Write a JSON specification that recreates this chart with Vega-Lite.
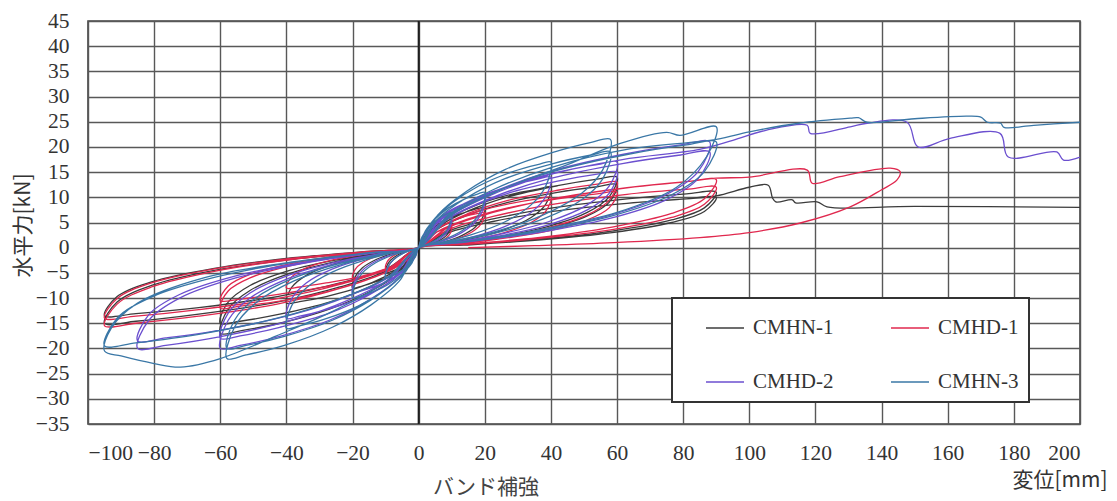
{
"$schema":"https://vega.github.io/schema/vega-lite/v6.json",
"width":992,"height":403,
"autosize":{"type":"none"},
"padding":{"left":88,"top":21,"right":37,"bottom":77},
"background":"white",
"config":{
 "view":{"stroke":"#444","strokeWidth":1.6},
 "axis":{"labelFont":"Liberation Serif","labelFontSize":21.5,"labelColor":"#333","grid":true,"gridColor":"#585858","gridWidth":1.4,"ticks":false,"domain":false,"titleFont":"Noto Sans CJK JP","titleFontWeight":"normal","titleFontSize":21,"titleColor":"#333"},
 "legend":{"orient":"none","legendX":584,"legendY":277,"columns":2,"direction":"horizontal","symbolType":"stroke","symbolSize":1444,"symbolStrokeWidth":1.6,"labelFont":"Liberation Serif","labelFontSize":21,"labelColor":"#333","padding":10,"rowPadding":24,"columnPadding":33,"symbolOffset":23,"labelOffset":8,"strokeColor":"#333","strokeWidth":2,"fillColor":"white"}
},
"title":{"text":"バンド補強","orient":"bottom","anchor":"start","frame":"group","font":"Noto Sans CJK JP","fontSize":21,"fontWeight":"normal","color":"#444","dx":345,"dy":-17},
"datasets":{
"ax":[{"x":0,"y":-35,"k":"v"},{"x":0,"y":45,"k":"v"}],
"n1":[
{"x":0,"y":0},{"x":1,"y":1.5},{"x":2.5,"y":2.6},{"x":4.5,"y":3.6},{"x":7,"y":4.4},{"x":9,"y":4.9},{"x":10,"y":5},{"x":9.6,"y":3.6},{"x":8.5,"y":2.5},{"x":6.5,"y":1.5},{"x":4,"y":0.8},{"x":1.5,"y":0.3},
{"x":0,"y":0},{"x":-1,"y":-1.5},{"x":-2.5,"y":-2.6},{"x":-4.5,"y":-3.6},{"x":-7,"y":-4.4},{"x":-9,"y":-4.9},{"x":-10,"y":-5},{"x":-9.6,"y":-3.6},{"x":-8.5,"y":-2.5},{"x":-6.5,"y":-1.5},{"x":-4,"y":-0.8},{"x":-1.5,"y":-0.3},
{"x":0,"y":0},{"x":2,"y":2.4},{"x":5,"y":4.2},{"x":9,"y":5.8},{"x":14,"y":7},{"x":18,"y":7.8},{"x":20,"y":8},{"x":19.2,"y":5.8},{"x":17,"y":4},{"x":13,"y":2.4},{"x":8,"y":1.2},{"x":3,"y":0.4},
{"x":0,"y":0},{"x":-2,"y":-2.4},{"x":-5,"y":-4.2},{"x":-9,"y":-5.8},{"x":-14,"y":-7},{"x":-18,"y":-7.8},{"x":-20,"y":-8},{"x":-19.2,"y":-5.8},{"x":-17,"y":-4},{"x":-13,"y":-2.4},{"x":-8,"y":-1.2},{"x":-3,"y":-0.4},
{"x":0,"y":0},{"x":4,"y":3.6},{"x":10,"y":6.2},{"x":18,"y":8.6},{"x":28,"y":10.6},{"x":36,"y":11.6},{"x":40,"y":12},{"x":38.4,"y":8.6},{"x":34,"y":6},{"x":26,"y":3.6},{"x":16,"y":1.8},{"x":6,"y":0.6},
{"x":0,"y":0},{"x":-4,"y":-3.3},{"x":-10,"y":-5.7},{"x":-18,"y":-7.9},{"x":-28,"y":-9.7},{"x":-36,"y":-10.7},{"x":-40,"y":-11},{"x":-38.4,"y":-7.9},{"x":-34,"y":-5.5},{"x":-26,"y":-3.3},{"x":-16,"y":-1.7},{"x":-6,"y":-0.6},
{"x":0,"y":0},{"x":6,"y":4.2},{"x":15,"y":7.3},{"x":27,"y":10.1},{"x":42,"y":12.3},{"x":54,"y":13.6},{"x":60,"y":14},{"x":57.6,"y":10.1},{"x":51,"y":7},{"x":39,"y":4.2},{"x":24,"y":2.1},{"x":9,"y":0.7},
{"x":0,"y":0},{"x":-6,"y":-5.1},{"x":-15,"y":-8.8},{"x":-27,"y":-12.2},{"x":-42,"y":-15},{"x":-54,"y":-16.5},{"x":-60,"y":-17},{"x":-57.6,"y":-12.2},{"x":-51,"y":-8.5},{"x":-39,"y":-5.1},{"x":-24,"y":-2.6},{"x":-9,"y":-0.9},
{"x":0,"y":0},{"x":6,"y":3.8},{"x":15,"y":6.5},{"x":27,"y":9},{"x":42,"y":11},{"x":54,"y":12.1},{"x":60,"y":12.5},{"x":57.6,"y":9},{"x":51,"y":6.3},{"x":39,"y":3.8},{"x":24,"y":1.9},{"x":9,"y":0.6},
{"x":0,"y":0},{"x":-6,"y":-4.5},{"x":-15,"y":-7.8},{"x":-27,"y":-10.8},{"x":-42,"y":-13.2},{"x":-54,"y":-14.6},{"x":-60,"y":-15},{"x":-57.6,"y":-10.8},{"x":-51,"y":-7.5},{"x":-39,"y":-4.5},{"x":-24,"y":-2.3},{"x":-9,"y":-0.8},
{"x":0,"y":0},{"x":9,"y":3.3},{"x":22.5,"y":5.7},{"x":40.5,"y":7.9},{"x":63,"y":9.7},{"x":81,"y":10.7},{"x":90,"y":11},{"x":86.4,"y":7.9},{"x":76.5,"y":5.5},{"x":58.5,"y":3.3},{"x":36,"y":1.7},{"x":13.5,"y":0.6},
{"x":0,"y":0},{"x":-9.5,"y":-4.5},{"x":-23.8,"y":-7.8},{"x":-42.8,"y":-10.8},{"x":-66.5,"y":-13.2},{"x":-85.5,"y":-14.6},{"x":-95,"y":-15},{"x":-91.2,"y":-10.8},{"x":-80.8,"y":-7.5},{"x":-61.8,"y":-4.5},{"x":-38,"y":-2.3},{"x":-14.3,"y":-0.8},
{"x":0,"y":0},{"x":9,"y":3},{"x":22.5,"y":5.2},{"x":40.5,"y":7.2},{"x":63,"y":8.8},{"x":81,"y":9.7},{"x":90,"y":10},{"x":86.4,"y":7.2},{"x":76.5,"y":5},{"x":58.5,"y":3},{"x":36,"y":1.5},{"x":13.5,"y":0.5},
{"x":0,"y":0},{"x":-9.5,"y":-4.1},{"x":-23.8,"y":-7},{"x":-42.8,"y":-9.7},{"x":-66.5,"y":-11.9},{"x":-85.5,"y":-13.1},{"x":-95,"y":-13.5},{"x":-91.2,"y":-9.7},{"x":-80.8,"y":-6.8},{"x":-61.8,"y":-4.1},{"x":-38,"y":-2},{"x":-14.3,"y":-0.7},
{"x":0,"y":0},{"x":9,"y":3},{"x":22.5,"y":5.2},{"x":40.5,"y":7.2},{"x":63,"y":8.8},{"x":81,"y":9.7},{"x":90,"y":10.3},{"x":100,"y":12},{"x":105.7,"y":12.4},{"x":107,"y":9.9},{"x":108,"y":9.1},{"x":113,"y":9.5},{"x":114,"y":8.9},{"x":120.5,"y":9.1},{"x":123.5,"y":8.1},{"x":150,"y":8.2},{"x":200,"y":8}
],
"d1":[
{"x":0,"y":0},{"x":1,"y":1.2},{"x":2.5,"y":2.1},{"x":4.5,"y":2.9},{"x":7,"y":3.5},{"x":9,"y":3.9},{"x":10,"y":4},{"x":9.6,"y":2.9},{"x":8.5,"y":2},{"x":6.5,"y":1.2},{"x":4,"y":0.6},{"x":1.5,"y":0.2},
{"x":0,"y":0},{"x":-1,"y":-1.2},{"x":-2.5,"y":-2.1},{"x":-4.5,"y":-2.9},{"x":-7,"y":-3.5},{"x":-9,"y":-3.9},{"x":-10,"y":-4},{"x":-9.6,"y":-2.9},{"x":-8.5,"y":-2},{"x":-6.5,"y":-1.2},{"x":-4,"y":-0.6},{"x":-1.5,"y":-0.2},
{"x":0,"y":0},{"x":2,"y":2.1},{"x":5,"y":3.6},{"x":9,"y":5},{"x":14,"y":6.2},{"x":18,"y":6.8},{"x":20,"y":7},{"x":19.2,"y":5},{"x":17,"y":3.5},{"x":13,"y":2.1},{"x":8,"y":1.1},{"x":3,"y":0.4},
{"x":0,"y":0},{"x":-2,"y":-1.8},{"x":-5,"y":-3.1},{"x":-9,"y":-4.3},{"x":-14,"y":-5.3},{"x":-18,"y":-5.8},{"x":-20,"y":-6},{"x":-19.2,"y":-4.3},{"x":-17,"y":-3},{"x":-13,"y":-1.8},{"x":-8,"y":-0.9},{"x":-3,"y":-0.3},
{"x":0,"y":0},{"x":4,"y":3},{"x":10,"y":5.2},{"x":18,"y":7.2},{"x":28,"y":8.8},{"x":36,"y":9.7},{"x":40,"y":10},{"x":38.4,"y":7.2},{"x":34,"y":5},{"x":26,"y":3},{"x":16,"y":1.5},{"x":6,"y":0.5},
{"x":0,"y":0},{"x":-4,"y":-2.4},{"x":-10,"y":-4.2},{"x":-18,"y":-5.8},{"x":-28,"y":-7},{"x":-36,"y":-7.8},{"x":-40,"y":-8},{"x":-38.4,"y":-5.8},{"x":-34,"y":-4},{"x":-26,"y":-2.4},{"x":-16,"y":-1.2},{"x":-6,"y":-0.4},
{"x":0,"y":0},{"x":6,"y":3.9},{"x":15,"y":6.8},{"x":27,"y":9.4},{"x":42,"y":11.4},{"x":54,"y":12.6},{"x":60,"y":13},{"x":57.6,"y":9.4},{"x":51,"y":6.5},{"x":39,"y":3.9},{"x":24,"y":2},{"x":9,"y":0.7},
{"x":0,"y":0},{"x":-6,"y":-3.6},{"x":-15,"y":-6.2},{"x":-27,"y":-8.6},{"x":-42,"y":-10.6},{"x":-54,"y":-11.6},{"x":-60,"y":-12},{"x":-57.6,"y":-8.6},{"x":-51,"y":-6},{"x":-39,"y":-3.6},{"x":-24,"y":-1.8},{"x":-9,"y":-0.6},
{"x":0,"y":0},{"x":6,"y":3.3},{"x":15,"y":5.7},{"x":27,"y":7.9},{"x":42,"y":9.7},{"x":54,"y":10.7},{"x":60,"y":11},{"x":57.6,"y":7.9},{"x":51,"y":5.5},{"x":39,"y":3.3},{"x":24,"y":1.7},{"x":9,"y":0.6},
{"x":0,"y":0},{"x":-6,"y":-3.2},{"x":-15,"y":-5.5},{"x":-27,"y":-7.6},{"x":-42,"y":-9.2},{"x":-54,"y":-10.2},{"x":-60,"y":-10.5},{"x":-57.6,"y":-7.6},{"x":-51,"y":-5.3},{"x":-39,"y":-3.2},{"x":-24,"y":-1.6},{"x":-9,"y":-0.5},
{"x":0,"y":0},{"x":9,"y":4.1},{"x":22.5,"y":7},{"x":40.5,"y":9.7},{"x":63,"y":11.9},{"x":81,"y":13.1},{"x":90,"y":13.5},{"x":86.4,"y":9.7},{"x":76.5,"y":6.8},{"x":58.5,"y":4.1},{"x":36,"y":2},{"x":13.5,"y":0.7},
{"x":0,"y":0},{"x":-9.5,"y":-4.7},{"x":-23.8,"y":-8.1},{"x":-42.8,"y":-11.2},{"x":-66.5,"y":-13.6},{"x":-85.5,"y":-15},{"x":-95,"y":-15.5},{"x":-91.2,"y":-11.2},{"x":-80.8,"y":-7.8},{"x":-61.8,"y":-4.7},{"x":-38,"y":-2.3},{"x":-14.3,"y":-0.8},
{"x":0,"y":0},{"x":9,"y":3.6},{"x":22.5,"y":6.2},{"x":40.5,"y":8.6},{"x":63,"y":10.6},{"x":81,"y":11.6},{"x":90,"y":12},{"x":86.4,"y":8.6},{"x":76.5,"y":6},{"x":58.5,"y":3.6},{"x":36,"y":1.8},{"x":13.5,"y":0.6},
{"x":0,"y":0},{"x":-9.5,"y":-4.2},{"x":-23.8,"y":-7.3},{"x":-42.8,"y":-10.1},{"x":-66.5,"y":-12.3},{"x":-85.5,"y":-13.6},{"x":-95,"y":-14},{"x":-91.2,"y":-10.1},{"x":-80.8,"y":-7},{"x":-61.8,"y":-4.2},{"x":-38,"y":-2.1},{"x":-14.3,"y":-0.7},
{"x":0,"y":0},{"x":9,"y":4},{"x":22.5,"y":7},{"x":40.5,"y":9.7},{"x":63,"y":11.9},{"x":81,"y":13.1},{"x":90,"y":13.8},{"x":100,"y":14},{"x":117.5,"y":15.4},{"x":119,"y":12.8},{"x":127.4,"y":14.1},{"x":142.6,"y":15.8},{"x":145.6,"y":15.1},{"x":144.6,"y":13.4},{"x":140,"y":11.5},{"x":130.5,"y":8.1},{"x":115.4,"y":4.9},{"x":100,"y":3},{"x":85,"y":2},{"x":59,"y":1},{"x":35,"y":0.4},{"x":15,"y":0}
],
"d2":[
{"x":0,"y":0},{"x":1,"y":1.8},{"x":2.5,"y":3.1},{"x":4.5,"y":4.3},{"x":7,"y":5.3},{"x":9,"y":5.8},{"x":10,"y":6},{"x":9.6,"y":4.3},{"x":8.5,"y":3},{"x":6.5,"y":1.8},{"x":4,"y":0.9},{"x":1.5,"y":0.3},
{"x":0,"y":0},{"x":-1,"y":-1.8},{"x":-2.5,"y":-3.1},{"x":-4.5,"y":-4.3},{"x":-7,"y":-5.3},{"x":-9,"y":-5.8},{"x":-10,"y":-6},{"x":-9.6,"y":-4.3},{"x":-8.5,"y":-3},{"x":-6.5,"y":-1.8},{"x":-4,"y":-0.9},{"x":-1.5,"y":-0.3},
{"x":0,"y":0},{"x":2,"y":3},{"x":5,"y":5.2},{"x":9,"y":7.2},{"x":14,"y":8.8},{"x":18,"y":9.7},{"x":20,"y":10},{"x":19.2,"y":7.2},{"x":17,"y":5},{"x":13,"y":3},{"x":8,"y":1.5},{"x":3,"y":0.5},
{"x":0,"y":0},{"x":-2,"y":-2.7},{"x":-5,"y":-4.7},{"x":-9,"y":-6.5},{"x":-14,"y":-7.9},{"x":-18,"y":-8.7},{"x":-20,"y":-9},{"x":-19.2,"y":-6.5},{"x":-17,"y":-4.5},{"x":-13,"y":-2.7},{"x":-8,"y":-1.4},{"x":-3,"y":-0.5},
{"x":0,"y":0},{"x":4,"y":4.2},{"x":10,"y":7.3},{"x":18,"y":10.1},{"x":28,"y":12.3},{"x":36,"y":13.6},{"x":40,"y":14},{"x":38.4,"y":10.1},{"x":34,"y":7},{"x":26,"y":4.2},{"x":16,"y":2.1},{"x":6,"y":0.7},
{"x":0,"y":0},{"x":-4,"y":-4.2},{"x":-10,"y":-7.3},{"x":-18,"y":-10.1},{"x":-28,"y":-12.3},{"x":-36,"y":-13.6},{"x":-40,"y":-14},{"x":-38.4,"y":-10.1},{"x":-34,"y":-7},{"x":-26,"y":-4.2},{"x":-16,"y":-2.1},{"x":-6,"y":-0.7},
{"x":0,"y":0},{"x":6,"y":5.1},{"x":15,"y":8.8},{"x":27,"y":12.2},{"x":42,"y":15},{"x":54,"y":16.5},{"x":60,"y":17},{"x":57.6,"y":12.2},{"x":51,"y":8.5},{"x":39,"y":5.1},{"x":24,"y":2.6},{"x":9,"y":0.9},
{"x":0,"y":0},{"x":-6,"y":-6},{"x":-15,"y":-10.4},{"x":-27,"y":-14.4},{"x":-42,"y":-17.6},{"x":-54,"y":-19.4},{"x":-60,"y":-20},{"x":-57.6,"y":-14.4},{"x":-51,"y":-10},{"x":-39,"y":-6},{"x":-24,"y":-3},{"x":-9,"y":-1},
{"x":0,"y":0},{"x":6,"y":4.5},{"x":15,"y":7.8},{"x":27,"y":10.8},{"x":42,"y":13.2},{"x":54,"y":14.6},{"x":60,"y":15},{"x":57.6,"y":10.8},{"x":51,"y":7.5},{"x":39,"y":4.5},{"x":24,"y":2.3},{"x":9,"y":0.8},
{"x":0,"y":0},{"x":-6,"y":-5.4},{"x":-15,"y":-9.4},{"x":-27,"y":-13},{"x":-42,"y":-15.8},{"x":-54,"y":-17.5},{"x":-60,"y":-18},{"x":-57.6,"y":-13},{"x":-51,"y":-9},{"x":-39,"y":-5.4},{"x":-24,"y":-2.7},{"x":-9,"y":-0.9},
{"x":0,"y":0},{"x":8.8,"y":6.3},{"x":22,"y":10.9},{"x":39.6,"y":15.1},{"x":61.6,"y":18.5},{"x":79.2,"y":20.4},{"x":88,"y":21},{"x":84.5,"y":15.1},{"x":74.8,"y":10.5},{"x":57.2,"y":6.3},{"x":35.2,"y":3.2},{"x":13.2,"y":1.1},
{"x":0,"y":0},{"x":-8.5,"y":-6},{"x":-21.3,"y":-10.4},{"x":-38.3,"y":-14.4},{"x":-59.5,"y":-17.6},{"x":-76.5,"y":-19.4},{"x":-85,"y":-20},{"x":-81.6,"y":-14.4},{"x":-72.3,"y":-10},{"x":-55.3,"y":-6},{"x":-34,"y":-3},{"x":-12.8,"y":-1},
{"x":0,"y":0},{"x":8.8,"y":5.7},{"x":22,"y":9.9},{"x":39.6,"y":13.7},{"x":61.6,"y":16.7},{"x":79.2,"y":18.4},{"x":88,"y":19},{"x":84.5,"y":13.7},{"x":74.8,"y":9.5},{"x":57.2,"y":5.7},{"x":35.2,"y":2.9},{"x":13.2,"y":1},
{"x":0,"y":0},{"x":-8.5,"y":-5.6},{"x":-21.3,"y":-9.6},{"x":-38.3,"y":-13.3},{"x":-59.5,"y":-16.3},{"x":-76.5,"y":-17.9},{"x":-85,"y":-18.5},{"x":-81.6,"y":-13.3},{"x":-72.3,"y":-9.3},{"x":-55.3,"y":-5.6},{"x":-34,"y":-2.8},{"x":-12.8,"y":-0.9},
{"x":0,"y":0},{"x":8.8,"y":6},{"x":22,"y":10.5},{"x":39.6,"y":14.5},{"x":61.6,"y":17.5},{"x":85,"y":19.5},{"x":95,"y":21.3},{"x":105,"y":23.3},{"x":117.5,"y":24.3},{"x":118.4,"y":22.7},{"x":130.5,"y":24},{"x":135.6,"y":24.7},{"x":147.7,"y":24.9},{"x":151,"y":20},{"x":160.7,"y":21.7},{"x":175.8,"y":22.7},{"x":178.3,"y":18},{"x":193,"y":19},{"x":195,"y":17.4},{"x":200,"y":18}
],
"n3":[
{"x":0,"y":0},{"x":1,"y":2.1},{"x":2.5,"y":3.6},{"x":4.5,"y":5},{"x":7,"y":6.2},{"x":9,"y":6.8},{"x":10,"y":7},{"x":9.6,"y":5},{"x":8.5,"y":3.5},{"x":6.5,"y":2.1},{"x":4,"y":1.1},{"x":1.5,"y":0.4},
{"x":0,"y":0},{"x":-1,"y":-1.8},{"x":-2.5,"y":-3.1},{"x":-4.5,"y":-4.3},{"x":-7,"y":-5.3},{"x":-9,"y":-5.8},{"x":-10,"y":-6},{"x":-9.6,"y":-4.3},{"x":-8.5,"y":-3},{"x":-6.5,"y":-1.8},{"x":-4,"y":-0.9},{"x":-1.5,"y":-0.3},
{"x":0,"y":0},{"x":2,"y":3.3},{"x":5,"y":5.7},{"x":9,"y":7.9},{"x":14,"y":9.7},{"x":18,"y":10.7},{"x":20,"y":11},{"x":19.2,"y":7.9},{"x":17,"y":5.5},{"x":13,"y":3.3},{"x":8,"y":1.7},{"x":3,"y":0.6},
{"x":0,"y":0},{"x":-2,"y":-3},{"x":-5,"y":-5.2},{"x":-9,"y":-7.2},{"x":-14,"y":-8.8},{"x":-18,"y":-9.7},{"x":-20,"y":-10},{"x":-19.2,"y":-7.2},{"x":-17,"y":-5},{"x":-13,"y":-3},{"x":-8,"y":-1.5},{"x":-3,"y":-0.5},
{"x":0,"y":0},{"x":4,"y":5.1},{"x":10,"y":8.8},{"x":18,"y":12.2},{"x":28,"y":15},{"x":36,"y":16.5},{"x":40,"y":17},{"x":38.4,"y":12.2},{"x":34,"y":8.5},{"x":26,"y":5.1},{"x":16,"y":2.6},{"x":6,"y":0.9},
{"x":0,"y":0},{"x":-4,"y":-4.8},{"x":-10,"y":-8.3},{"x":-18,"y":-11.5},{"x":-28,"y":-14.1},{"x":-36,"y":-15.5},{"x":-40,"y":-16},{"x":-38.4,"y":-11.5},{"x":-34,"y":-8},{"x":-26,"y":-4.8},{"x":-16,"y":-2.4},{"x":-6,"y":-0.8},
{"x":0,"y":0},{"x":5.8,"y":6.5},{"x":14.5,"y":11.2},{"x":26.1,"y":15.5},{"x":40.6,"y":18.9},{"x":52.2,"y":20.9},{"x":58,"y":21.5},{"x":55.7,"y":15.5},{"x":49.3,"y":10.8},{"x":37.7,"y":6.5},{"x":23.2,"y":3.2},{"x":8.7,"y":1.1},
{"x":0,"y":0},{"x":-5.8,"y":-6.6},{"x":-14.5,"y":-11.4},{"x":-26.1,"y":-15.8},{"x":-40.6,"y":-19.4},{"x":-52.2,"y":-21.3},{"x":-58,"y":-22},{"x":-55.7,"y":-15.8},{"x":-49.3,"y":-11},{"x":-37.7,"y":-6.6},{"x":-23.2,"y":-3.3},{"x":-8.7,"y":-1.1},
{"x":0,"y":0},{"x":5.8,"y":5.7},{"x":14.5,"y":9.9},{"x":26.1,"y":13.7},{"x":40.6,"y":16.7},{"x":52.2,"y":18.4},{"x":58,"y":19},{"x":55.7,"y":13.7},{"x":49.3,"y":9.5},{"x":37.7,"y":5.7},{"x":23.2,"y":2.9},{"x":8.7,"y":1},
{"x":0,"y":0},{"x":-5.8,"y":-6},{"x":-14.5,"y":-10.4},{"x":-26.1,"y":-14.4},{"x":-40.6,"y":-17.6},{"x":-52.2,"y":-19.4},{"x":-58,"y":-20},{"x":-55.7,"y":-14.4},{"x":-49.3,"y":-10},{"x":-37.7,"y":-6},{"x":-23.2,"y":-3},{"x":-8.7,"y":-1},
{"x":0,"y":0},{"x":10,"y":6.5},{"x":25,"y":11.5},{"x":45,"y":16.5},{"x":61,"y":20.7},{"x":75,"y":22.9},{"x":79,"y":22.3},{"x":90,"y":24},{"x":87,"y":18},{"x":78,"y":12},{"x":60,"y":7},{"x":36,"y":3.5},{"x":14,"y":1.2},
{"x":0,"y":0},{"x":-9.5,"y":-6.5},{"x":-24,"y":-12},{"x":-43,"y":-17.5},{"x":-60,"y":-22},{"x":-72,"y":-23.7},{"x":-80,"y":-23},{"x":-90,"y":-21.5},{"x":-95,"y":-20.5},{"x":-93,"y":-16},{"x":-85,"y":-11},{"x":-65,"y":-6},{"x":-40,"y":-3},{"x":-15,"y":-1},
{"x":0,"y":0},{"x":9,"y":6.3},{"x":22.5,"y":10.9},{"x":40.5,"y":15.1},{"x":63,"y":18.5},{"x":81,"y":20.4},{"x":90,"y":21},{"x":86.4,"y":15.1},{"x":76.5,"y":10.5},{"x":58.5,"y":6.3},{"x":36,"y":3.2},{"x":13.5,"y":1.1},
{"x":0,"y":0},{"x":-9.5,"y":-5.9},{"x":-23.8,"y":-10.1},{"x":-42.8,"y":-14},{"x":-66.5,"y":-17.2},{"x":-85.5,"y":-18.9},{"x":-95,"y":-19.5},{"x":-91.2,"y":-14},{"x":-80.8,"y":-9.8},{"x":-61.8,"y":-5.9},{"x":-38,"y":-2.9},{"x":-14.3,"y":-1},
{"x":0,"y":0},{"x":9,"y":6.5},{"x":22.5,"y":11.5},{"x":40.5,"y":16},{"x":63,"y":19.5},{"x":90,"y":21.5},{"x":100,"y":23},{"x":115,"y":24.7},{"x":130.5,"y":25.7},{"x":133,"y":25.8},{"x":135.6,"y":24.9},{"x":150,"y":25.6},{"x":166,"y":26.1},{"x":170,"y":25.9},{"x":172,"y":24.9},{"x":176,"y":24.7},{"x":177,"y":23.9},{"x":186,"y":24.3},{"x":200,"y":24.9}
]
},
"encoding":{
 "x":{"field":"x","type":"quantitative","scale":{"domain":[-100,200],"nice":false,"zero":false},"axis":{"values":[-100,-80,-60,-40,-20,0,20,40,60,80,100,120,140,160,180,200],"labelPadding":18,"title":"変位[mm]","titleX":1019,"titleY":56,"titleAlign":"right","titleBaseline":"middle","titleAngle":0}},
 "y":{"field":"y","type":"quantitative","scale":{"domain":[-35,45],"nice":false,"zero":false},"axis":{"values":[-35,-30,-25,-20,-15,-10,-5,0,5,10,15,20,25,30,35,40,45],"labelPadding":19,"title":"水平力[kN]","titleX":-65,"titleY":204,"titleAlign":"center","titleBaseline":"middle","titleAngle":-90}},
 "order":{"value":null}
},
"layer":[
 {"data":{"name":"ax"},"mark":{"type":"line","color":"#1e1e1e","strokeWidth":2},"encoding":{"detail":{"field":"k","type":"nominal"}}},
 {"data":{"name":"n1"},"mark":{"type":"line","strokeWidth":1.3,"interpolate":"catmull-rom"},"encoding":{"color":{"datum":"CMHN-1","type":"nominal","scale":{"domain":["CMHN-1","CMHD-1","CMHD-2","CMHN-3"],"range":["#3c3c3c","#e0284e","#6b4fcf","#3a77a6"]},"legend":{"title":null}}}},
 {"data":{"name":"d1"},"mark":{"type":"line","strokeWidth":1.3,"interpolate":"catmull-rom"},"encoding":{"color":{"datum":"CMHD-1","type":"nominal"}}},
 {"data":{"name":"d2"},"mark":{"type":"line","strokeWidth":1.3,"interpolate":"catmull-rom"},"encoding":{"color":{"datum":"CMHD-2","type":"nominal"}}},
 {"data":{"name":"n3"},"mark":{"type":"line","strokeWidth":1.3,"interpolate":"catmull-rom"},"encoding":{"color":{"datum":"CMHN-3","type":"nominal"}}}
]
}
